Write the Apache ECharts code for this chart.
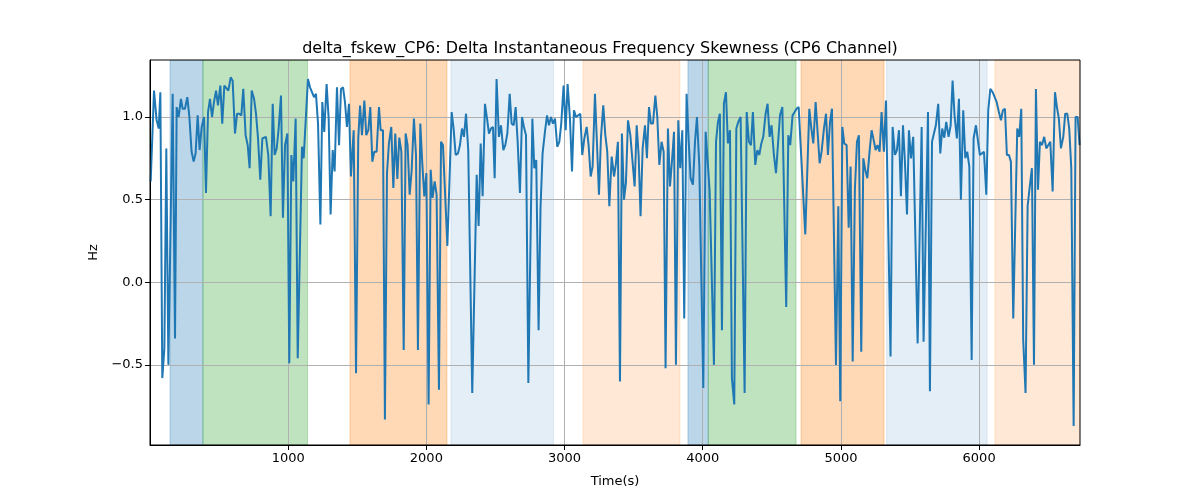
<!DOCTYPE html>
<html>
<head>
<meta charset="utf-8">
<script src="https://cdn.jsdelivr.net/npm/echarts@6/dist/echarts.min.js"></script>
<style>html,body{margin:0;padding:0;background:#fff}#c{width:1200px;height:500px}</style>
</head>
<body>
<div id="c"></div>
<script>
// ---- data ----
const times = [5,29,48,63,75,89,104,118,133,164,181,193,207,224,236,253,270,285,301,316,330,345,359,374,391,405,420,434,449,463,478,492,509,523,538,552,567,584,598,615,630,646,661,675,692,707,721,736,753,767,781,798,813,827,
839,856,873,888,902,917,931,948,962,977,994,1008,1023,1037,1054,1069,1100,1112,1143,1158,1172,1187,1201,1216,1233,1247,1261,1278,1293,1307,1322,1336,1353,1368,1382,1397,1411,1425,1440,1454,1474,1491,1507,1520,1534,1551,1565,1580,1594,1609,1623,1640,1657,
1669,1686,1700,1715,1729,1746,1761,1775,1790,1804,1819,1836,1850,1864,1879,1893,1910,1925,1939,1956,1971,1985,2000,2016,2031,2045,2060,2074,2091,2106,2120,2152,2183,2197,2212,2229,2243,2258,2272,2287,2303,2332,2364,2378,2393,2407,2424,2439,2453,2467,2482,2494,
2508,2525,2540,2557,2571,2586,2603,2617,2632,2646,2660,2677,2692,2706,2721,2738,2767,2781,2795,2812,2826,2841,2858,2873,2887,2902,2916,2931,2947,2962,2976,2993,3008,3022,3039,3054,3068,3083,3097,3114,3128,3143,3160,3174,3189,3203,3220,3234,3249,3263,3280,3295,3309,3324,
3341,3358,3372,3386,3401,3415,3430,3444,3459,3476,3490,3507,3522,3536,3550,3565,3582,3596,3611,3625,3640,3657,3671,3686,3702,3717,3731,3748,3763,3777,3792,3806,3823,3837,3852,3866,3883,3898,3912,3929,3944,3958,3975,4004,4021,4035,4050,4064,4081,4096,4110,4124,4139,4153,
4168,4182,4197,4211,4228,4243,4257,4274,4303,4318,4334,4349,4363,4380,4395,4409,4424,4438,4455,4469,4484,4498,4515,4530,4544,4559,4576,4604,4619,4633,4650,4665,4679,4694,4742,4771,4786,4800,4817,4831,4846,4860,4877,4892,4906,4921,4935,4964,4981,4995,
5010,5024,5041,5056,5070,5085,5101,5116,5130,5147,5162,5176,5191,5208,5222,5237,5251,5265,5280,5294,5311,5326,5359,5374,5391,5405,5420,5434,5449,5463,5478,5492,5507,5523,5555,5584,5598,5630,5644,5659,5673,5687,5704,5719,5733,5748,5762,5779,5794,5808,5823,
5827,5839,5854,5868,5885,5900,5914,5929,5946,5960,5977,5991,6006,6020,6035,6052,6066,6081,6098,6112,6127,6143,6158,6172,6187,6201,6216,6230,6247,6276,6290,6305,6319,6336,6351,6365,6382,6397,6411,6426,6440,6455,6471,6486,6500,6515,6532,6549,6563,6577,6592,6609,6623,6638,6652,6667,6684,6698,6713,6727];

const values = [0.61,1.16,0.98,0.93,1.15,-0.58,-0.40,0.81,-0.50,1.14,-0.34,1.06,1.00,1.11,1.05,1.05,1.12,1.00,0.79,0.73,0.78,1.01,0.80,0.94,1.00,0.54,1.03,1.11,1.00,1.09,1.16,1.07,1.19,0.96,1.19,1.20,1.16,1.24,1.22,0.90,1.02,1.02,1.01,1.17,0.89,0.83,0.69,1.16,1.11,1.02,0.88,0.62,0.87,0.87,
0.88,0.77,0.40,1.08,0.77,0.81,0.93,1.13,0.39,0.83,0.90,-0.49,0.77,0.61,0.99,-0.46,0.82,0.75,1.23,1.18,1.19,1.12,1.14,0.96,0.35,1.09,0.91,1.20,0.99,0.41,0.80,0.67,1.18,0.83,1.17,1.18,1.09,0.94,1.08,0.64,0.92,-0.55,0.87,1.07,0.89,1.10,0.89,0.92,1.06,0.73,0.79,0.79,1.06,
0.92,0.92,-0.83,0.66,0.84,0.94,0.57,0.90,0.625,0.875,0.79,-0.41,0.90,0.83,0.53,0.67,0.99,0.77,-0.41,0.96,0.71,0.52,0.66,-0.74,0.68,0.51,0.61,0.53,-0.65,0.85,0.83,0.22,1.03,0.93,0.77,0.78,0.83,0.93,0.88,1.02,0.80,-0.67,0.65,0.34,0.84,0.52,1.08,0.99,0.90,0.93,0.94,0.63,
1.23,0.88,0.95,0.80,0.83,0.90,1.14,0.96,0.95,1.06,0.86,0.54,1.00,0.94,0.89,-0.61,0.99,0.69,0.74,-0.29,0.45,0.78,0.91,1.01,0.95,1.00,0.96,0.99,0.82,0.85,0.96,1.19,0.92,1.20,0.99,0.67,1.04,1.00,1.01,1.02,0.77,0.87,0.94,0.83,0.64,0.70,1.14,0.85,0.53,0.87,1.07,0.89,0.79,0.46,
0.76,0.64,0.72,0.85,-0.60,0.90,0.50,0.60,0.98,0.89,0.75,0.58,0.95,0.77,0.40,0.81,0.95,0.75,1.06,0.96,0.96,1.13,1.00,0.71,0.85,0.79,-0.52,0.93,0.58,0.73,0.91,-0.50,0.98,0.69,0.92,-0.22,1.14,0.86,0.63,0.59,0.85,1.00,0.71,-0.64,0.91,0.74,0.55,0.55,-0.50,0.85,0.97,1.02,-0.29,1.08,
1.15,0.84,0.92,-0.58,-0.74,0.93,0.97,1.00,-0.67,1.03,0.85,0.83,1.03,0.71,0.80,0.77,0.84,0.88,1.02,1.08,0.88,0.95,0.77,0.66,0.65,1.01,1.06,-0.15,0.89,0.83,1.01,1.03,1.05,1.06,0.29,1.05,0.93,0.84,1.09,0.91,0.72,0.79,0.93,1.02,0.77,0.97,1.05,-0.50,0.46,-0.72,
0.94,0.84,0.83,0.33,0.70,-0.48,0.56,0.85,0.89,-0.42,0.75,0.68,0.63,0.80,0.92,0.86,0.80,0.83,0.79,1.03,0.79,1.10,-0.45,0.94,0.77,0.80,0.92,0.52,0.95,0.73,0.41,0.92,0.75,0.88,-0.37,0.94,-0.36,1.03,-0.66,0.85,0.86,0.95,1.08,0.78,0.93,0.875,0.97,0.88,0.95,1.22,1.00,
0.99,0.87,1.11,0.50,1.04,0.75,0.79,0.70,-0.47,0.87,0.95,0.86,0.77,0.76,0.79,0.53,1.04,1.17,1.15,1.14,1.09,1.03,0.98,1.04,1.05,0.77,0.77,0.73,-0.22,0.93,0.88,1.05,-0.35,-0.67,0.46,0.57,0.69,-0.50,1.17,0.56,0.85,0.83,0.88,0.81,0.80,0.85,0.55,1.15,1.06,0.99,0.81,0.88,1.02,1.02,0.93,0.69,-0.87,1.00,1.00,0.83];

const bandStarts = [145, 383, 1447, 2178, 3133, 3893, 4040, 4711, 5331, 6114];
const bandEnds   = [383, 1140, 2149, 2920, 3835, 4040, 4675, 5312, 6058, 6730];
const bandGroups = ['A', 'B', 'C', 'D', 'E', 'A', 'B', 'C', 'D', 'E'];

const xTicks = [1000, 2000, 3000, 4000, 5000, 6000];
const yTicks = [-0.5, 0.0, 0.5, 1.0];
const xRange = [0, 6730];
const yRange = [-0.985, 1.345];

const titleText = 'delta_fskew_CP6: Delta Instantaneous Frequency Skewness (CP6 Channel)';
const xName = 'Time(s)';
const yName = 'Hz';

// ---- styles ----
const groupStyle = {
  A: 'rgba(31,119,180,0.3)',
  B: 'rgba(44,160,44,0.3)',
  C: 'rgba(255,127,14,0.3)',
  D: 'rgba(31,119,180,0.12)',
  E: 'rgba(255,127,14,0.17)'
};
const FONT = 'DejaVu Sans';

const lineData = times.map((t, i) => [t, values[i]]);
const bandData = bandStarts.map((s, i) => [s, bandEnds[i], i]);

const chart = echarts.init(document.getElementById('c'), null, {renderer: 'canvas'});
const fmtY = v => {
  const s = Math.abs(v) < 1e-9 ? '0.0' : v.toFixed(1);
  return s.replace('-', '\u2212');
};
const fmtX = v => String(Math.round(v));

chart.setOption({
  animation: false,
  backgroundColor: '#fff',
  title: {
    text: titleText, left: 'center', top: 36,
    textStyle: {fontFamily: FONT, fontSize: 16, fontWeight: 'normal', color: '#000'}
  },
  grid: {left: 150, right: 120, top: 60, bottom: 55, show: true, borderColor: '#000', borderWidth: 1, backgroundColor: 'transparent', z: 4},
  xAxis: {
    type: 'value', min: xRange[0], max: xRange[1], z: 2,
    name: xName, nameLocation: 'middle', nameGap: 30,
    nameTextStyle: {fontFamily: FONT, fontSize: 13, color: '#000'},
    axisLine: {show: true, onZero: false, lineStyle: {color: '#000'}},
    axisTick: {show: true, length: 5, lineStyle: {color: '#000'}, customValues: xTicks},
    axisLabel: {customValues: xTicks, formatter: fmtX, fontFamily: FONT, fontSize: 13, color: '#000', margin: 7},
    splitLine: {show: true, lineStyle: {color: '#b0b0b0', width: 1}}
  },
  yAxis: {
    type: 'value', min: yRange[0], max: yRange[1], z: 2,
    name: yName, nameLocation: 'middle', nameGap: 48, nameRotate: 90,
    nameTextStyle: {fontFamily: FONT, fontSize: 13, color: '#000'},
    axisLine: {show: true, onZero: false, lineStyle: {color: '#000'}},
    axisTick: {show: true, length: 5, lineStyle: {color: '#000'}, customValues: yTicks},
    axisLabel: {customValues: yTicks, formatter: fmtY, fontFamily: FONT, fontSize: 13, color: '#000', margin: 7},
    splitLine: {show: true, lineStyle: {color: '#b0b0b0', width: 1}}
  },
  series: [
    {
      type: 'custom', z: 1, silent: true,
      data: bandData,
      encode: {x: [0, 1]},
      clip: true,
      renderItem: function (params, api) {
        const cs = params.coordSys;
        const x0 = api.coord([api.value(0), 0])[0];
        const x1 = api.coord([api.value(1), 0])[0];
        const idx = api.value(2);
        const col = groupStyle[bandGroups[idx]];
        const left = Math.max(cs.x, x0), right = Math.min(cs.x + cs.width, x1);
        return {
          type: 'rect',
          shape: {x: left, y: cs.y, width: right - left, height: cs.height},
          style: {fill: col, stroke: col, lineWidth: 1}
        };
      }
    },
    {
      type: 'line', z: 3, data: lineData, showSymbol: false, symbol: 'none',
      lineStyle: {color: '#1f77b4', width: 2}, clip: true
    }
  ]
});
</script>
</body>
</html>
